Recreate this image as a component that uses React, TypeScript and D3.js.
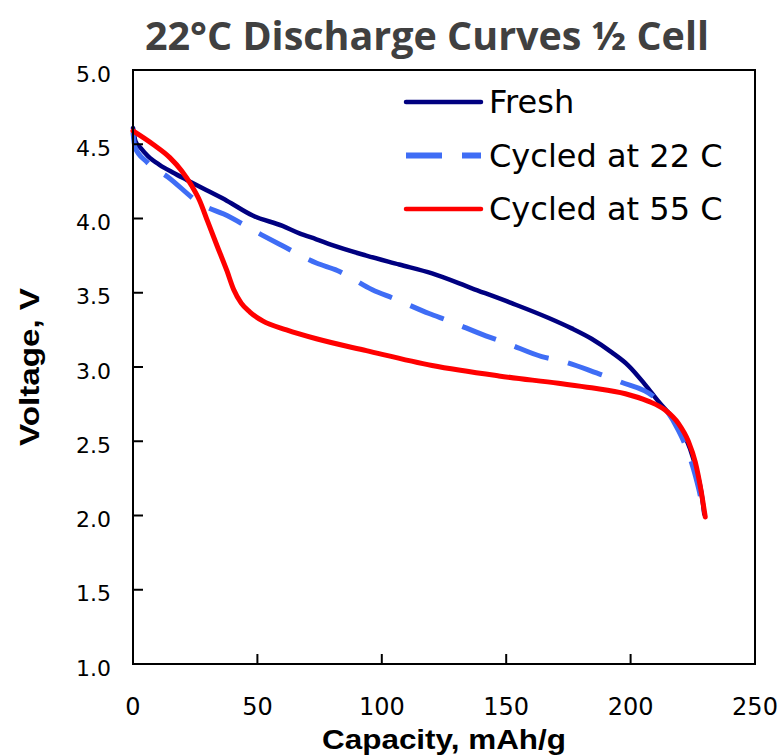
import React from "react";
import * as d3 from "d3";

type Pt = [number, number];

const title = "22°C Discharge Curves ½ Cell";
const xTitle = "Capacity, mAh/g";
const yTitle = "Voltage, V";
const xTicks = [0, 50, 100, 150, 200, 250];
const yTicks = [1.0, 1.5, 2.0, 2.5, 3.0, 3.5, 4.0, 4.5, 5.0];
const seriesNames = ["Fresh", "Cycled at 22 C", "Cycled at 55 C"];

const fresh: Pt[] = [
  [0, 4.61], [1, 4.52], [2.8, 4.48], [6, 4.42], [10.8, 4.36], [16, 4.31], [21.6, 4.26],
  [29.6, 4.19], [37.7, 4.12], [48.1, 4.02], [60.1, 3.95], [66.9, 3.9], [73.7, 3.86],
  [80.1, 3.82], [93.8, 3.75], [107, 3.69], [120.2, 3.63], [136.2, 3.53], [152.2, 3.43],
  [167.1, 3.33], [176.3, 3.26], [184.3, 3.19], [192.3, 3.1], [199.1, 3.01], [205.9, 2.88],
  [211.1, 2.77], [216.3, 2.67], [220.4, 2.58], [223.9, 2.45], [226.4, 2.31], [228.4, 2.16],
  [229.6, 2.01],
];

const cycled22: Pt[] = [
  [0, 4.58], [0.8, 4.48], [5.6, 4.38], [14, 4.28], [28, 4.09], [36.5, 4.03], [51.7, 3.89],
  [59.7, 3.82], [73.7, 3.7], [82.1, 3.65], [96.2, 3.52], [105, 3.46], [119, 3.36],
  [127, 3.31], [141.8, 3.21], [150.2, 3.16], [164.3, 3.07], [172.3, 3.04], [186.3, 2.96],
  [195.9, 2.9], [210, 2.79], [213.9, 2.72], [219, 2.58], [223, 2.43], [226, 2.27],
  [228.4, 2.1], [229.4, 2.0],
];

const cycled55: Pt[] = [
  [0, 4.59], [8, 4.5], [14.8, 4.41], [19.6, 4.32], [23.6, 4.22], [26.8, 4.12], [30, 3.98],
  [33.7, 3.82], [37.7, 3.65], [40.5, 3.52], [43.5, 3.43], [47, 3.37], [52.1, 3.31],
  [61.7, 3.25], [73.7, 3.19], [93.8, 3.11], [120.2, 3.01], [147, 2.94], [171, 2.89],
  [184.3, 2.86], [197.9, 2.82], [207, 2.77], [213.9, 2.71], [219.2, 2.62], [223.2, 2.5],
  [226, 2.36], [228.4, 2.16], [230, 1.99],
];

const W = 782;
const H = 755;
const left = 133;
const right = 755;
const top = 70;
const bottom = 664;

export default function App() {
  const x = d3.scaleLinear().domain([0, 250]).range([left, right]);
  const y = d3.scaleLinear().domain([1, 5]).range([bottom, top]);
  const line = d3
    .line<Pt>()
    .x((d) => x(d[0]))
    .y((d) => y(d[1]))
    .curve(d3.curveMonotoneX);

  const series = [
    { name: seriesNames[0], data: fresh, color: "#000080", width: 4.5, dash: undefined as string | undefined, cap: "round" },
    { name: seriesNames[1], data: cycled22, color: "#3f6df5", width: 5, dash: "36,20", cap: "butt" },
    { name: seriesNames[2], data: cycled55, color: "#ff0000", width: 5, dash: undefined as string | undefined, cap: "round" },
  ];

  const legendX0 = 406;
  const legendX1 = 481;
  const legendY0 = 102;
  const legendStep = 53.5;

  return (
    <svg
      width={W}
      height={H}
      style={{ position: "absolute", left: 0, top: 0, background: "#fff" }}
    >
      <rect x={0} y={0} width={W} height={H} fill="#fff" />
      <text
        x={427}
        y={50}
        textAnchor="middle"
        fontFamily="'Open Sans', sans-serif"
        fontWeight="bold"
        fontSize={40}
        fill="#404040"
        textLength={564}
        lengthAdjust="spacingAndGlyphs"
      >
        {title}
      </text>

      {series.map((s) => (
        <path
          key={s.name}
          d={line(s.data) || ""}
          fill="none"
          stroke={s.color}
          strokeWidth={s.width}
          strokeDasharray={s.dash}
          strokeLinecap={s.cap as any}
          strokeLinejoin="round"
        />
      ))}

      <rect
        x={left}
        y={top}
        width={right - left}
        height={bottom - top}
        fill="none"
        stroke="#000"
        strokeWidth={2}
      />

      {yTicks.map((t) => (
        <g key={"y" + t}>
          <line x1={left} x2={left + 10} y1={y(t)} y2={y(t)} stroke="#000" strokeWidth={2} />
          <text
            x={111}
            y={y(t) + 4}
            textAnchor="end"
            dominantBaseline="central"
            fontFamily="'DejaVu Sans', Verdana, sans-serif"
            fontSize={22}
            fill="#000"
          >
            {t.toFixed(1)}
          </text>
        </g>
      ))}

      {xTicks.map((t) => (
        <g key={"x" + t}>
          <line x1={x(t)} x2={x(t)} y1={bottom} y2={bottom - 10} stroke="#000" strokeWidth={2} />
          <text
            x={x(t)}
            y={715}
            textAnchor="middle"
            fontFamily="'DejaVu Sans', Verdana, sans-serif"
            fontSize={24}
            fill="#000"
          >
            {t}
          </text>
        </g>
      ))}

      <text
        x={444}
        y={749}
        textAnchor="middle"
        fontFamily="'Liberation Sans', Arial, sans-serif"
        fontWeight="bold"
        fontSize={27}
        fill="#000"
        textLength={244}
        lengthAdjust="spacingAndGlyphs"
      >
        {xTitle}
      </text>
      <text
        transform={`translate(39,${(top + bottom) / 2}) rotate(-90)`}
        textAnchor="middle"
        fontFamily="'Liberation Sans', Arial, sans-serif"
        fontWeight="bold"
        fontSize={27}
        fill="#000"
        textLength={158}
        lengthAdjust="spacingAndGlyphs"
      >
        {yTitle}
      </text>

      {series.map((s, i) => {
        const ly = legendY0 + i * legendStep;
        return (
          <g key={"lg" + s.name}>
            <line
              x1={legendX0}
              x2={legendX1}
              y1={ly}
              y2={ly}
              stroke={s.color}
              strokeWidth={s.dash ? 6 : 4.5}
              strokeDasharray={s.dash}
              strokeLinecap={s.cap as any}
            />
            <text
              x={489}
              y={ly}
              dominantBaseline="central"
              fontFamily="'DejaVu Sans', Verdana, sans-serif"
              fontSize={32}
              fill="#000"
            >
              {s.name}
            </text>
          </g>
        );
      })}
    </svg>
  );
}
